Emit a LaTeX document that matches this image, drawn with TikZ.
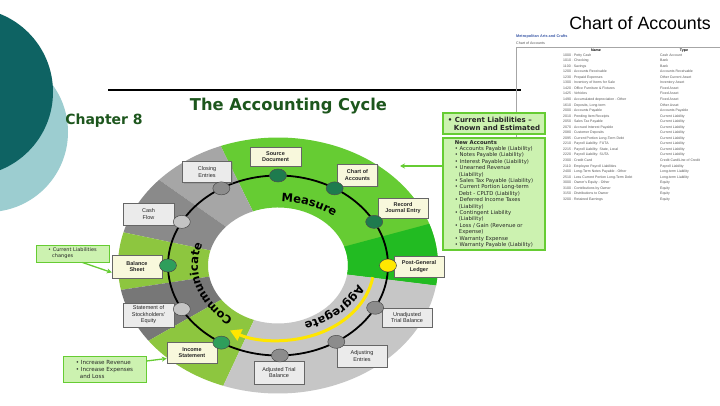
\documentclass[tikz,border=0pt]{standalone}
\usepackage{fontspec}
\setmainfont{Liberation Sans}
\newfontfamily\wideface{DejaVu Sans}
\usepackage{tikz}
\usetikzlibrary{calc, positioning, shapes.geometric, arrows.meta, decorations.text, shadows}

\definecolor{tealdark}{HTML}{0E6363}
\definecolor{teallight}{HTML}{9CCDD0}
\definecolor{titlegreen}{HTML}{1D561D}
\definecolor{ringgreen}{HTML}{66CC33}
\definecolor{ringdeep}{HTML}{22BB22}
\definecolor{ringlime}{HTML}{8DC63F}
\definecolor{ringgreyA}{HTML}{A6A6A6}
\definecolor{ringgreyB}{HTML}{8A8A8A}
\definecolor{ringgreyC}{HTML}{777777}
\definecolor{ringpale}{HTML}{C6C6C6}
\definecolor{creamfill}{HTML}{F8F8DC}
\definecolor{boxgrey}{HTML}{EBEBEB}
\definecolor{boxline}{HTML}{666666}
\definecolor{notefill}{HTML}{CCF2B0}
\definecolor{noteline}{HTML}{66CC33}
\definecolor{dotdark}{HTML}{1E7B4E}
\definecolor{dotmid}{HTML}{2E9E5B}
\definecolor{dotyellow}{HTML}{FFE800}
\definecolor{dotgrey}{HTML}{8C8C8C}
\definecolor{dotlight}{HTML}{C4C4C4}
\definecolor{arcyellow}{HTML}{FFE600}
\definecolor{metroblue}{HTML}{3C5AA8}
\definecolor{coatext}{HTML}{555555}

\newcommand{\ringfont}{\wideface\bfseries\fontsize{11.5}{13}\selectfont}

\begin{document}
\begin{tikzpicture}[
		x=1pt, y=1pt,
		box/.style={draw=boxline, line width=0.5pt, minimum width=50pt, minimum height=21pt,
			inner sep=1pt, align=center, text=black!85,
			drop shadow={shadow xshift=1pt, shadow yshift=-1pt, opacity=0.35}},
		cream/.style={box, fill=creamfill, font=\fontsize{5.5}{6.5}\selectfont\bfseries},
		greybox/.style={box, fill=boxgrey, font=\fontsize{5.5}{6.5}\selectfont},
		dot/.style={ellipse, draw=black!70, line width=0.5pt, minimum width=17pt,
			minimum height=13pt, inner sep=0pt},
		note/.style={draw=noteline, fill=notefill, line width=1.2pt, align=left, inner sep=2pt,
			text=black!85},
		greenarrow/.style={draw=noteline, line width=1.3pt, -{Stealth[length=5pt,width=5pt]}},
		ringtext/.style={decorate, decoration={text along path, text align=center}},
		>=stealth
		]
	\useasboundingbox (0,0) rectangle (720,405);
	\clip (0,0) rectangle (720,405);
	\fill[white] (0,0) rectangle (720,405);

	% --- coins en haut a gauche ---
	\fill[teallight] (-12,273) circle [radius=80pt];
	\fill[tealdark] (-31,313) circle [radius=84pt];
	\draw[line width=1.8pt] (108,315) -- (521,315);

	% --- titres ---
	\node[font=\wideface\bfseries\fontsize{14}{16}\selectfont, text=titlegreen] (chapter) at (104,284) {Chapter 8};
	\node[font=\wideface\bfseries\fontsize{16.3}{19}\selectfont, text=titlegreen] (cycletitle) at (288.5,299) {The Accounting Cycle};
	\node[font=\fontsize{17.8}{20}\selectfont] (coahead) at (640,382) {Chart of Accounts};

	% --- plan comptable (a droite) ---
	\draw[black!35, line width=0.4pt] (516,357.5) -- (720,357.5);
	\draw[black!35, line width=0.4pt] (516,357.5) -- (516,155);
	\node[anchor=west, inner sep=0pt, text=metroblue, font=\fontsize{3.8}{4.5}\selectfont\bfseries] (metro) at (516,368) {Metropolitan Arts and Crafts};
	\node[anchor=west, inner sep=0pt, text=coatext, font=\fontsize{3.6}{4.5}\selectfont] (coasub) at (516,362) {Chart of Accounts};
	\node[inner sep=0pt, font=\fontsize{3.6}{4.5}\selectfont\bfseries] (colname) at (596,354.5) {Name};
	\node[inner sep=0pt, font=\fontsize{3.6}{4.5}\selectfont\bfseries] (coltype) at (684,354.5) {Type};
	\node[anchor=north west, inner sep=0pt, text=coatext, font=\fontsize{3.5}{5.55}\selectfont] (coarows) at (563,353) {%
		\begin{tabular}{@{}p{97pt}@{}l@{}}
			1000 · Petty Cash & Cash Account\\
			1010 · Checking & Bank\\
			1100 · Savings & Bank\\
			1200 · Accounts Receivable & Accounts Receivable\\
			1230 · Prepaid Expenses & Other Current Asset\\
			1300 · Inventory of Items for Sale & Inventory Asset\\
			1420 · Office Furniture \& Fixtures & Fixed Asset\\
			1425 · Vehicles & Fixed Asset\\
			1490 · Accumulated depreciation - Other & Fixed Asset\\
			1610 · Deposits, Long-term & Other Asset\\
			2000 · Accounts Payable & Accounts Payable\\
			2010 · Pending Item Receipts & Current Liability\\
			2050 · Sales Tax Payable & Current Liability\\
			2070 · Accrued Interest Payable & Current Liability\\
			2080 · Customer Deposits & Current Liability\\
			2095 · Current Portion Long-Term Debt & Current Liability\\
			2210 · Payroll Liability: FUTA & Current Liability\\
			2215 · Payroll Liability: State, Local & Current Liability\\
			2220 · Payroll Liability: SUTA & Current Liability\\
			2300 · Credit Card & Credit Card/Line of Credit\\
			2110 · Employee Payroll Liabilities & Payroll Liability\\
			2400 · Long-Term Notes Payable - Other & Long-term Liability\\
			2510 · Less Current Portion Long-Term Debt & Long-term Liability\\
			3000 · Owner's Equity - Other & Equity\\
			3100 · Contributions by Owner & Equity\\
			3150 · Distributions to Owner & Equity\\
			3200 · Retained Earnings & Equity
		\end{tabular}};

	% --- anneau du cycle ---
	\coordinate (O) at (278,139.5);
	\fill[ringgreen] ($(O)+(-9:160pt and 128pt)$) arc[start angle=-9, end angle=111, x radius=160pt, y radius=128pt] -- ($(O)+(111:70pt and 58pt)$) arc[start angle=111, end angle=-9, x radius=70pt, y radius=58pt] -- cycle;
	\fill[ringdeep] ($(O)+(-9:160pt and 128pt)$) arc[start angle=-9, end angle=19, x radius=160pt, y radius=128pt] -- ($(O)+(19:70pt and 58pt)$) arc[start angle=19, end angle=-9, x radius=70pt, y radius=58pt] -- cycle;
	\fill[ringgreyA] ($(O)+(111:160pt and 128pt)$) arc[start angle=111, end angle=138, x radius=160pt, y radius=128pt] -- ($(O)+(138:70pt and 58pt)$) arc[start angle=138, end angle=111, x radius=70pt, y radius=58pt] -- cycle;
	\fill[ringgreyB] ($(O)+(138:160pt and 128pt)$) arc[start angle=138, end angle=165, x radius=160pt, y radius=128pt] -- ($(O)+(165:70pt and 58pt)$) arc[start angle=165, end angle=138, x radius=70pt, y radius=58pt] -- cycle;
	\fill[ringlime] ($(O)+(165:160pt and 128pt)$) arc[start angle=165, end angle=191, x radius=160pt, y radius=128pt] -- ($(O)+(191:70pt and 58pt)$) arc[start angle=191, end angle=165, x radius=70pt, y radius=58pt] -- cycle;
	\fill[ringgreyC] ($(O)+(191:160pt and 128pt)$) arc[start angle=191, end angle=216, x radius=160pt, y radius=128pt] -- ($(O)+(216:70pt and 58pt)$) arc[start angle=216, end angle=191, x radius=70pt, y radius=58pt] -- cycle;
	\fill[ringlime] ($(O)+(216:160pt and 128pt)$) arc[start angle=216, end angle=250, x radius=160pt, y radius=128pt] -- ($(O)+(250:70pt and 58pt)$) arc[start angle=250, end angle=216, x radius=70pt, y radius=58pt] -- cycle;
	\fill[ringpale] ($(O)+(250:160pt and 128pt)$) arc[start angle=250, end angle=351, x radius=160pt, y radius=128pt] -- ($(O)+(351:70pt and 58pt)$) arc[start angle=351, end angle=250, x radius=70pt, y radius=58pt] -- cycle;

	\draw[line width=1.8pt] (O) ellipse [x radius=110pt, y radius=90pt];
	\draw[arcyellow, line width=3pt, -{Triangle[length=11pt,width=12pt]}] ($(O)+(-9:96pt and 75pt)$) arc[start angle=-9, end angle=-120, x radius=96pt, y radius=75pt];

	\path[ringtext, decoration={text={|\ringfont|Measure}}] ($(O)+(98:87pt and 64pt)$) arc[start angle=98, end angle=38, x radius=87pt, y radius=64pt];
	\path[ringtext, decoration={text={|\ringfont|Aggregate}}] ($(O)+(-10:84pt and 60pt)$) arc[start angle=-10, end angle=-78, x radius=84pt, y radius=60pt];
	\path[ringtext, decoration={text={|\ringfont|Communicate}}] ($(O)+(245:80pt and 64pt)$) arc[start angle=245, end angle=150, x radius=80pt, y radius=64pt];

	% --- etapes ---
	\node[cream, minimum width=51pt, minimum height=19pt] (src) at (275.5,248.5) {Source\\Document};
	\node[cream, minimum width=40pt, minimum height=22pt] (coa) at (357.5,230) {Chart of\\Accounts};
	\node[cream, minimum height=20pt] (rje) at (403,197) {Record\\Journal Entry};
	\node[cream] (pgl) at (419,138.5) {Post-General\\Ledger};
	\node[greybox, minimum height=19pt] (utb) at (407,87.5) {Unadjusted\\Trial Balance};
	\node[greybox, minimum height=22pt] (adj) at (362,49) {Adjusting\\Entries};
	\node[greybox, minimum height=23pt] (atb) at (279,32.5) {Adjusted Trial\\Balance};
	\node[cream] (inc) at (192,52.5) {Income\\Statement};
	\node[greybox, minimum width=51pt, minimum height=24pt] (sse) at (148.5,90) {Statement of\\Stockholders'\\Equity};
	\node[cream, minimum height=23pt] (bal) at (137,138.5) {Balance\\Sheet};
	\node[greybox, minimum width=51pt, minimum height=22pt] (cash) at (148.5,191) {Cash\\Flow};
	\node[greybox, minimum width=49pt] (clo) at (207,233) {Closing\\Entries};

	\node[dot, fill=dotdark] (srcdot) at ($(O)+(90:110pt and 90pt)$) {};
	\node[dot, fill=dotdark] (coadot) at ($(O)+(59:110pt and 90pt)$) {};
	\node[dot, fill=dotdark] (rjedot) at ($(O)+(29:110pt and 90pt)$) {};
	\node[dot, fill=dotyellow] (pgldot) at ($(O)+(0:110pt and 90pt)$) {};
	\node[dot, fill=dotgrey] (utbdot) at ($(O)+(-28:110pt and 90pt)$) {};
	\node[dot, fill=dotgrey] (adjdot) at ($(O)+(-58:110pt and 90pt)$) {};
	\node[dot, fill=dotgrey] (atbdot) at ($(O)+(-89:110pt and 90pt)$) {};
	\node[dot, fill=dotmid] (incdot) at ($(O)+(-121:110pt and 90pt)$) {};
	\node[dot, fill=dotlight] (ssedot) at ($(O)+(-151:110pt and 90pt)$) {};
	\node[dot, fill=dotmid] (baldot) at ($(O)+(180:110pt and 90pt)$) {};
	\node[dot, fill=dotlight] (cashdot) at ($(O)+(151:110pt and 90pt)$) {};
	\node[dot, fill=dotgrey] (clodot) at ($(O)+(121:110pt and 90pt)$) {};

	% --- encadres verts ---
	\node[note, minimum width=102pt, minimum height=21pt, font=\wideface\bfseries\fontsize{7}{8}\selectfont] (liab) at (494,281.5) {• Current Liabilities –\\\hspace*{6pt}Known and Estimated};
	\node[note, minimum width=102pt, minimum height=112pt, font=\wideface\fontsize{5.3}{6.4}\selectfont] (newacc) at (494,211) {%
		\textbf{New Accounts}\\
		• Accounts Payable (Liability)\\
		• Notes Payable (Liability)\\
		• Interest Payable (Liability)\\
		• Unearned Revenue\\
		\hspace*{4pt}(Liability)\\
		• Sales Tax Payable (Liability)\\
		• Current Portion Long-term\\
		\hspace*{4pt}Debt - CPLTD (Liability)\\
		• Deferred Income Taxes\\
		\hspace*{4pt}(Liability)\\
		• Contingent Liability\\
		\hspace*{4pt}(Liability)\\
		• Loss / Gain (Revenue or\\
		\hspace*{4pt}Expense)\\
		• Warranty Expense\\
		• Warranty Payable (Liability)};
	\node[note, minimum width=73pt, minimum height=17pt, line width=1pt, font=\wideface\fontsize{5}{6}\selectfont] (clchg) at (72.5,151.5) {• Current Liabilities\\\hspace*{4pt}changes};
	\node[note, minimum width=83pt, minimum height=26pt, line width=1pt, font=\wideface\fontsize{5.6}{7}\selectfont] (incexp) at (104.5,36) {• Increase Revenue\\• Increase Expenses\\\hspace*{4pt}and Loss};

	\coordinate (coaend) at (400,239);
	\draw[greenarrow] ([yshift=28pt]newacc.west) -- (coaend);
	\draw[greenarrow] ([xshift=10pt]clchg.south) -- ([yshift=-6pt]bal.west);
	\draw[greenarrow] ([yshift=8pt]incexp.east) -- ([yshift=-6pt]inc.west);

\end{tikzpicture}
\end{document}
